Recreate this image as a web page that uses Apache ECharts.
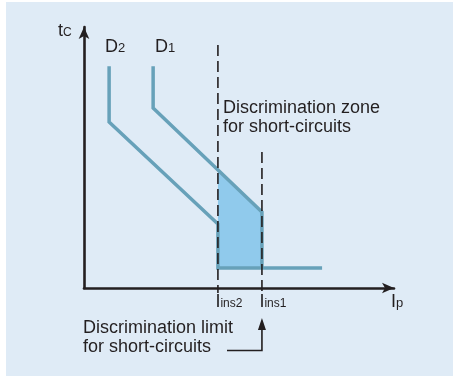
<!DOCTYPE html>
<html>
<head>
<meta charset="utf-8">
<script src="https://cdn.jsdelivr.net/npm/echarts@6/dist/echarts.min.js"></script>
<style>
  html, body { margin: 0; padding: 0; background: #ffffff; }
  #wrap { position: relative; width: 453px; height: 376px; overflow: hidden; }
  #bg { position: absolute; left: 6px; top: 2px; right: 0; bottom: 0; background: #dfebf6; }
  #chart { position: absolute; left: 0; top: 0; width: 453px; height: 376px; }
</style>
</head>
<body>
<div id="wrap"><div id="bg"></div><div id="chart"></div></div>
<script>
// Tripping curves (current Ip, time tc) of the two breakers, schematic units
const curveD2 = [[0.81, 8.5], [0.81, 6.36], [4.32, 2.45], [4.32, 0.77], [7.68, 0.77]];
const curveD1 = [[2.23, 8.5], [2.23, 6.9], [5.74, 2.91], [5.74, 0.77]];
// Instantaneous thresholds and the top of their marker lines
const iIns2 = 4.32;
const iIns1 = 5.74;
const markerTop2 = 9.31;
const markerTop1 = 5.21;
const markerBottom = -0.19;
const floorTime = 0.77;

const FONT = "'Liberation Sans', Arial, Helvetica, sans-serif";
const INK = '#231f20';
const CURVE = '#67a1b9';
const ZONE = '#90caec';

// time of a polyline curve at a given current (linear within a segment)
function timeAt(curve, x) {
  for (let i = 0; i < curve.length - 1; i++) {
    const a = curve[i], b = curve[i + 1];
    if (a[0] !== b[0] && x >= Math.min(a[0], b[0]) && x <= Math.max(a[0], b[0])) {
      return a[1] + (b[1] - a[1]) * (x - a[0]) / (b[0] - a[0]);
    }
  }
  return null;
}

// discrimination zone: under curve D1 between the two thresholds
const zone = [
  [iIns2, floorTime],
  [iIns2, timeAt(curveD1, iIns2)],
  [iIns1, timeAt(curveD1, iIns1)],
  [iIns1, floorTime]
];

const chart = echarts.init(document.getElementById('chart'), null, { renderer: 'canvas' });

const axisCommon = {
  type: 'value', min: 0, max: 10,
  axisLine: { show: true, symbol: ['none', 'arrow'], symbolSize: [8, 12],
              lineStyle: { color: INK, width: 2.6 } },
  axisTick: { show: false }, axisLabel: { show: false }, splitLine: { show: false }
};

const lineSeries = (data, style, z) => ({
  type: 'line', data, symbol: 'none', showSymbol: false, clip: false, z,
  silent: true, animation: false, lineStyle: style
});

chart.setOption({
  animation: false,
  grid: { left: 84, top: 27, width: 310, height: 261 },
  xAxis: axisCommon,
  yAxis: axisCommon,
  series: [
    {
      type: 'custom', z: 1, silent: true, clip: false, data: [[0, 0]],
      renderItem: (params, api) => ({
        type: 'polygon',
        shape: { points: zone.map(p => api.coord(p)) },
        style: { fill: ZONE }
      })
    },
    lineSeries(curveD2, { color: CURVE, width: 3.5, cap: 'butt', join: 'miter' }, 2),
    lineSeries(curveD1, { color: CURVE, width: 3.5, cap: 'butt', join: 'miter' }, 2),
    lineSeries([[iIns2, markerTop2], [iIns2, markerBottom]], { color: INK, width: 1.6, type: [11, 5] }, 3),
    lineSeries([[iIns1, markerTop1], [iIns1, markerBottom]], { color: INK, width: 1.6, type: [11, 5] }, 3)
  ]
});

// text measuring for main + subscript labels
const ctx = document.createElement('canvas').getContext('2d');
function textWidth(s, size) { ctx.font = size + 'px ' + FONT; return ctx.measureText(s).width; }

function plainText(text, left, baseline, size) {
  return {
    type: 'text', x: left, y: baseline - 0.35 * size, z: 100, silent: true,
    style: { text, fontSize: size, fontFamily: FONT, fill: INK, align: 'left', verticalAlign: 'middle' }
  };
}
function subText(main, sub, left, baseline, mainSize, subSize) {
  return [
    plainText(main, left, baseline, mainSize),
    plainText(sub, left + textWidth(main, mainSize), baseline, subSize)
  ];
}

const x2 = chart.convertToPixel({ gridIndex: 0 }, [iIns2, 0])[0];
const x1 = chart.convertToPixel({ gridIndex: 0 }, [iIns1, 0])[0];
const xEnd = chart.convertToPixel({ gridIndex: 0 }, [10, 0])[0];

const graphics = [].concat(
  subText('t', 'C', 58, 37, 18, 12),
  subText('D', '2', 105, 53, 18, 13),
  subText('D', '1', 155, 53, 18, 13),
  [plainText('Discrimination zone', 223, 114, 18), plainText('for short-circuits', 223, 133, 18)],
  subText('I', 'ins2', x2 - 2.5, 308, 18, 12),
  subText('I', 'ins1', x1 - 2.5, 308, 18, 12),
  subText('I', 'p', xEnd - 3, 308, 18, 13),
  [plainText('Discrimination limit', 83, 334, 18), plainText('for short-circuits', 83, 353, 18)],
  [
    {
      type: 'polyline', z: 100, silent: true,
      shape: { points: [[227, 350.5], [x1, 350.5], [x1, 328]] },
      style: { stroke: INK, lineWidth: 1.6, fill: null }
    },
    {
      type: 'polygon', z: 100, silent: true,
      shape: { points: [[x1, 318], [x1 - 4, 330], [x1 + 4, 330]] },
      style: { fill: INK }
    }
  ]
);

chart.setOption({ graphic: { elements: graphics } });
</script>
</body>
</html>
